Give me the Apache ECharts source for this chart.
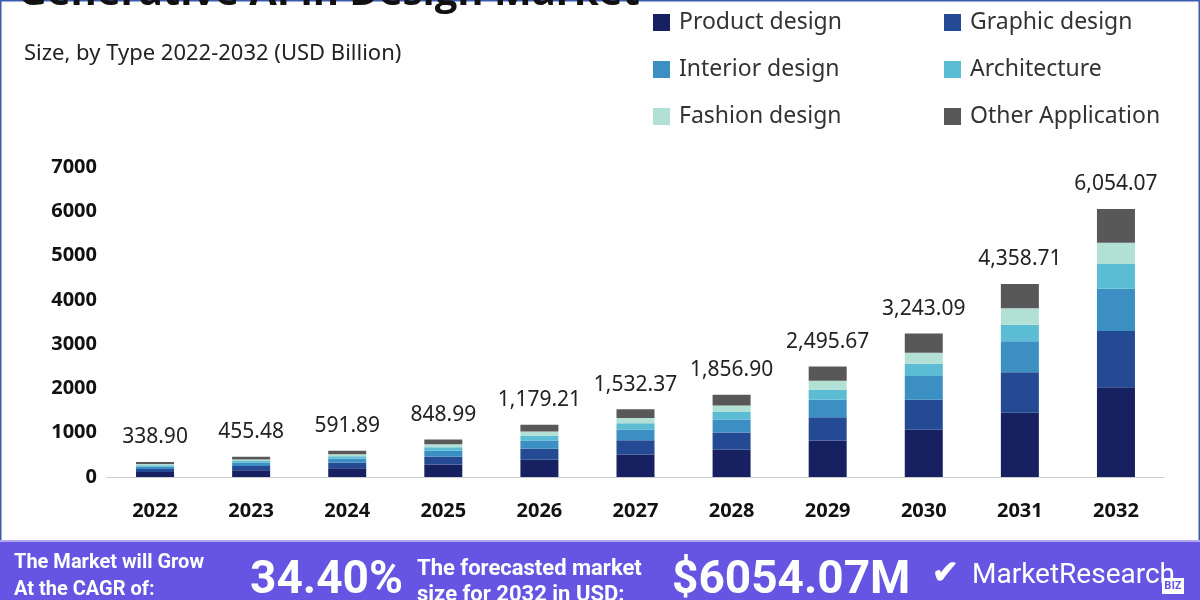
<!DOCTYPE html><html><head><meta charset="utf-8"><script src="https://cdn.jsdelivr.net/npm/echarts@6/dist/echarts.min.js"></script>
<style>html,body{margin:0;padding:0;background:#fff}#c{width:1200px;height:600px}</style></head><body><div id="c"></div><script>
const years=['2022','2023','2024','2025','2026','2027','2028','2029','2030','2031','2032'];
const totals=[338.90,455.48,591.89,848.99,1179.21,1532.37,1856.90,2495.67,3243.09,4358.71,6054.07];
const product=[112,150,195,280,389,506,613,824,1068,1451,2025];
const graphic=[71,96,124,178,248,322,390,524,677,912,1271];
const interior=[54,73,95,136,189,245,297,399,535,700,955];
const architecture=[30,41,53,76,106,138,167,225,278,375,558];
const fashion=[27,36,47,68,94,123,149,200,248,370,481];
const other=[46,59,78,111,153,198,241,324,437,551,764];
const names=['Product design','Graphic design','Interior design','Architecture','Fashion design','Other Application'];
const colors=['#172060','#244a93','#3c8fc2','#5bbcd3','#b3e0d4','#585858'];
const data=[product,graphic,interior,architecture,fashion,other];
const fmt=v=>v.toLocaleString('en-US',{minimumFractionDigits:2,maximumFractionDigits:2});
const ch=echarts.init(document.getElementById('c'));
const series=names.map((n,i)=>({name:n,type:'bar',stack:'a',barWidth:38,data:data[i],itemStyle:{color:colors[i]},
 label:i===5?{show:true,position:'top',distance:14,color:'#222',fontSize:21,fontFamily:'Noto Sans',formatter:p=>fmt(totals[p.dataIndex])}:{show:false}}));
const T=(x,y,t,s,w,f,ff)=>({type:'text',left:x,top:y,style:{text:t,fill:f||'#fff',font:(w||'bold')+' '+s+'px '+(ff||'"Open Sans", "Noto Sans"')}});
const lg=(x,items)=>({data:items,left:x,top:6,orient:'vertical',itemWidth:17,itemHeight:17,itemGap:24,icon:'rect',selectedMode:false,
  textStyle:{fontSize:23,color:'#333',fontFamily:'Noto Sans',padding:[0,0,0,4]}});
ch.setOption({animation:false,
 grid:{left:107,right:36,top:167,bottom:123},
 legend:[lg(648,[names[0],names[2],names[4]]),lg(939,[names[1],names[3],names[5]])],
 xAxis:{type:'category',data:years,axisTick:{show:false},axisLine:{lineStyle:{color:'#ccc'}},
  axisLabel:{fontSize:20,fontWeight:'bold',color:'#111',margin:24,fontFamily:'Noto Sans'}},
 yAxis:{type:'value',min:0,max:7000,interval:1000,splitLine:{show:false},
  axisLabel:{fontSize:20,fontWeight:'bold',color:'#111',margin:10,fontFamily:'Noto Sans',formatter:v=>String(v)}},
 series,
 graphic:[
  {type:'rect',shape:{x:0,y:0,width:1200,height:600},style:{fill:'none',stroke:'#3b5bb0',lineWidth:3}},
  {type:'rect',shape:{x:0,y:541,width:1200,height:59},style:{fill:'#6655e2'}},
  {type:'line',shape:{x1:0,y1:541,x2:1200,y2:541},style:{stroke:'#b0a8f0',lineWidth:2}},
  T(18,-26,'Generative AI in Design Market',40,'bold','#111'),
  T(24,43,'Size, by Type 2022-2032 (USD Billion)',22,'normal','#222','"Noto Sans"'),
  T(14,553,'The Market will Grow',20,'bold','#fff','"Liberation Sans Narrow", "Roboto"'),
  T(14,580,'At the CAGR of:',20,'bold','#fff','"Liberation Sans Narrow", "Roboto"'),
  T(250,558,'34.40%',46,'bold','#fff','"Roboto"'),
  T(417,558,'The forecasted market',22,'bold','#fff','"Liberation Sans Narrow", "Roboto"'),
  T(417,584,'size for 2032 in USD:',22,'bold','#fff','"Liberation Sans Narrow", "Roboto"'),
  T(672,558,'$6054.07M',46,'bold','#fff','"Roboto"'),
  T(932,558,'✔',32),
  T(972,562,'MarketResearch',28,'normal','#fff','"Liberation Sans Narrow", "Roboto"'),
  {type:'rect',shape:{x:1162,y:578,width:22,height:16},style:{fill:'#fff'}},
  T(1164,580,'BIZ',11,'bold','#6655e2')
 ]});
</script></body></html>
